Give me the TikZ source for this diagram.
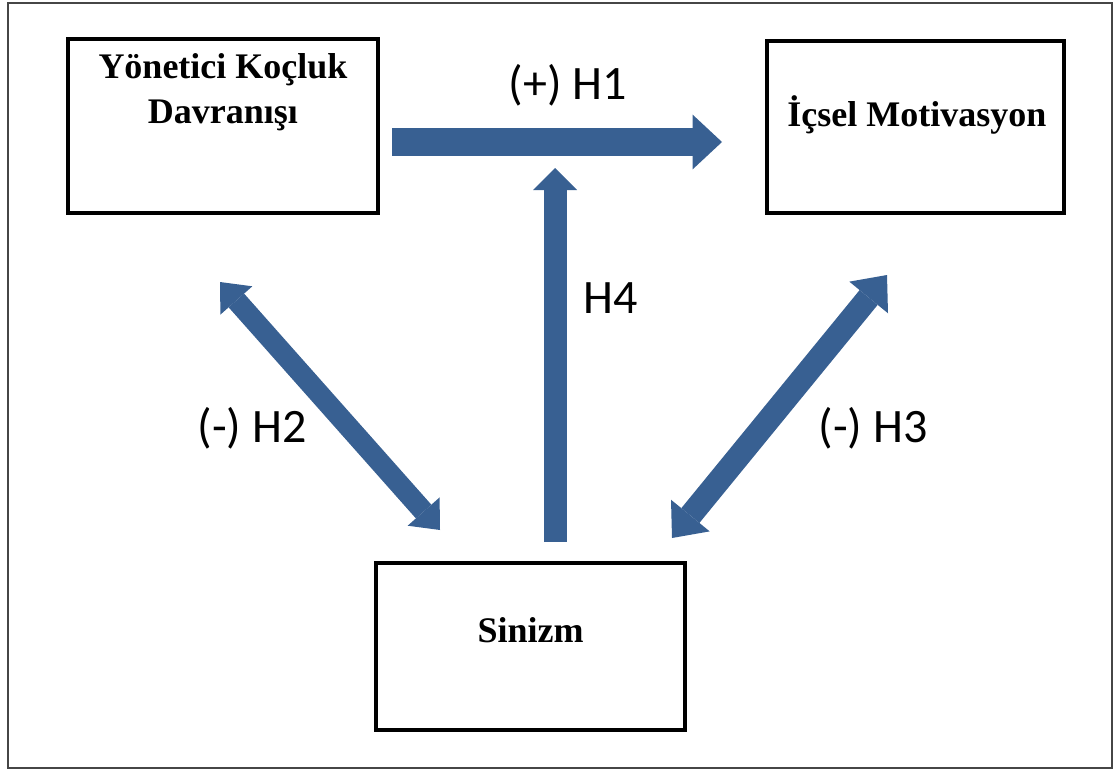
\documentclass[tikz,border=0pt]{standalone}
\usepackage{fontspec}
\setmainfont{Liberation Serif}
\newfontfamily\labelfont{Carlito}
\usetikzlibrary{arrows.meta}
\definecolor{arrowblue}{RGB}{56,96,146}
\definecolor{framegray}{RGB}{70,70,70}
\begin{document}
\begin{tikzpicture}[x=0.75pt,y=-0.75pt,
  box/.style={draw=black, line width=2.5pt, rectangle, inner sep=0pt},
  boxtext/.style={font=\fontsize{27}{33.75}\selectfont\bfseries, align=center, inner sep=0pt},
  hyp/.style={font=\labelfont\fontsize{36}{42}\selectfont, inner sep=0pt},
  blockarrow/.style={draw=arrowblue, line cap=butt}
]
\useasboundingbox (0,0) rectangle (1117,772);
\draw[line width=1.5pt, draw=framegray] (8,3) rectangle (1112,768);

\node[box, minimum width=232.5pt, minimum height=130.5pt,
  label={[boxtext, yshift=25.5pt]center:{Yönetici Koçluk\\Davranışı}}] (coach) at (223,126) {};
\node[box, minimum width=222.75pt, minimum height=129pt,
  label={[boxtext, yshift=9pt, xshift=1pt]center:{İçsel Motivasyon}}] (motiv) at (915.5,127) {};
\node[box, minimum width=231.75pt, minimum height=125.25pt,
  label={[boxtext, yshift=12.4pt]center:{Sinizm}}] (sinizm) at (530.5,646.5) {};

\coordinate (h1s) at (392,142);
\coordinate (h1e) at (722,142);
\coordinate (h4s) at (555,542);
\coordinate (h4e) at (555,168);
\coordinate (h2a) at (220,282);
\coordinate (h2b) at (440,530);
\coordinate (h3a) at (887,275);
\coordinate (h3b) at (672,538);

\draw[blockarrow, line width=21pt,
  -{Triangle[length=22pt,width=41pt,line width=0pt]}] (h1s) -- (h1e);
\draw[blockarrow, line width=17.25pt,
  -{Triangle[length=16.5pt,width=33pt,line width=0pt]}] (h4s) -- (h4e);
\draw[blockarrow, line width=15.5pt,
  {Triangle[length=18.5pt,width=32pt,line width=0pt]}-{Triangle[length=18.5pt,width=32pt,line width=0pt]}] (h2a) -- (h2b);
\draw[blockarrow, line width=17.5pt,
  {Triangle[length=21.75pt,width=37.5pt,line width=0pt]}-{Triangle[length=21.75pt,width=37.5pt,line width=0pt]}] (h3a) -- (h3b);

\node[hyp] (l1) at (568,85) {(+) H1};
\node[hyp] (l4) at (611,298) {H4};
\node[hyp] (l2) at (252,428) {(-) H2};
\node[hyp] (l3) at (873,428) {(-) H3};
\end{tikzpicture}
\end{document}
